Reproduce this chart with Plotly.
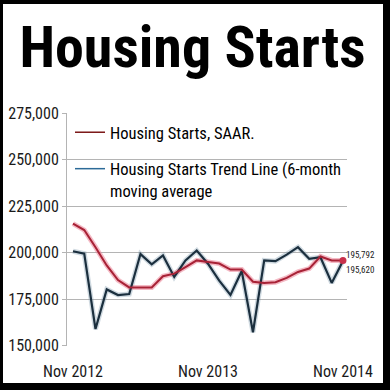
import plotly.graph_objects as go

# ---- data ----
months = ["Nov 2012", "Dec 2012", "Jan 2013", "Feb 2013", "Mar 2013", "Apr 2013",
          "May 2013", "Jun 2013", "Jul 2013", "Aug 2013", "Sep 2013", "Oct 2013",
          "Nov 2013", "Dec 2013", "Jan 2014", "Feb 2014", "Mar 2014", "Apr 2014",
          "May 2014", "Jun 2014", "Jul 2014", "Aug 2014", "Sep 2014", "Oct 2014",
          "Nov 2014"]
saar = [215700, 212200, 203000, 193200, 185300, 181400, 181300, 181300, 187400,
        188800, 192300, 195900, 195000, 194200, 191000, 191000, 184400, 183800,
        184200, 186500, 189700, 191500, 198000, 195900, 195792]
trend = [200800, 199500, 159000, 180300, 177300, 177800, 199300, 193800, 198600,
         187000, 195900, 201200, 194100, 185000, 177300, 190200, 157300, 195900,
         195500, 199000, 203000, 196800, 197600, 183800, 195620]
tick_months = ["Nov 2012", "Nov 2013", "Nov 2014"]
y_ticks = [150000, 175000, 200000, 225000, 250000, 275000]
end_labels = ["195,792", "195,620"]
legend_names = ["Housing Starts, SAAR.",
                "Housing Starts Trend Line (6-month<br>moving average"]

NARROW = "Roboto Condensed, Liberation Sans, Arial, sans-serif"

W = H = 390
L, R, T, B = 67, 43, 113, 44
PW, PH = W - L - R, H - T - B

def px_x(px):
    return (px - L) / PW

def px_y(py):
    return (H - B - py) / PH

fig = go.Figure()

# glow layers
fig.add_trace(go.Scatter(x=months, y=trend, mode="lines", showlegend=False,
                         line=dict(color="rgba(120,150,170,0.35)", width=5), hoverinfo="skip"))
fig.add_trace(go.Scatter(x=months, y=saar, mode="lines", showlegend=False,
                         line=dict(color="rgba(235,130,150,0.55)", width=5), hoverinfo="skip"))
# main lines
fig.add_trace(go.Scatter(x=months, y=trend, mode="lines", showlegend=False,
                         line=dict(color="#1b2f3e", width=2.2)))
fig.add_trace(go.Scatter(x=months, y=saar, mode="lines", showlegend=False,
                         line=dict(color="#a82236", width=2)))
fig.add_trace(go.Scatter(x=months[-1:], y=saar[-1:], mode="markers", showlegend=False,
                         marker=dict(color="#c8304a", size=7)))

# legend entries
fig.add_trace(go.Scatter(x=[None], y=[None], mode="lines", name=legend_names[0],
                         legendgroup="a", line=dict(color="#7d1a1a", width=1.5)))
fig.add_trace(go.Scatter(x=[None], y=[None], mode="lines", name=legend_names[1],
                         legendgroup="b", line=dict(color="#2c6a98", width=1.5)))

# end labels
fig.add_annotation(x=months[-1], y=saar[-1], text=end_labels[0], showarrow=False,
                   xanchor="left", yanchor="middle", xshift=1, yshift=6,
                   font=dict(family=NARROW, size=9, color="#222"))
fig.add_annotation(x=months[-1], y=trend[-1], text=end_labels[1], showarrow=False,
                   xanchor="left", yanchor="middle", xshift=1, yshift=-9,
                   font=dict(family=NARROW, size=9, color="#222"))

# frame: black paper with white inner panel
fig.add_shape(type="rect", xref="paper", yref="paper", layer="below",
              x0=px_x(3), x1=px_x(383), y0=px_y(383), y1=px_y(4),
              fillcolor="white", line=dict(width=0))

fig.update_layout(
    width=W, height=H,
    margin=dict(l=L, r=R, t=T, b=B, autoexpand=False),
    paper_bgcolor="black",
    plot_bgcolor="white",
    title=dict(text="<b>Housing Starts</b>", x=192.5 / W, xanchor="center",
               y=1 - 46.5 / H, yanchor="middle",
               font=dict(family=NARROW, size=58, color="black")),
    legend=dict(x=px_x(70), y=px_y(115), xanchor="left", yanchor="top",
                bgcolor="rgba(0,0,0,0)", valign="top", tracegroupgap=12,
                font=dict(family=NARROW, size=16.5, color="black"),
                itemwidth=30),
    showlegend=True,
)
fig.update_xaxes(type="category", range=[-0.533, 24.36], tickmode="array",
                 tickvals=tick_months, ticktext=tick_months, showgrid=False,
                 showline=False, zeroline=False, ticks="", ticklabelstandoff=14,
                 tickangle=0, automargin=False,
                 tickfont=dict(family=NARROW, size=16, color="#1a1a1a"))
fig.update_yaxes(range=[149900, 275100], tickmode="array", tickvals=y_ticks,
                 tickformat=",d", showgrid=True, gridcolor="#b4b4b4", gridwidth=1,
                 showline=True, linecolor="#b4b4b4", linewidth=1, zeroline=False,
                 ticks="outside", ticklen=4, tickcolor="#b4b4b4", automargin=False,
                 tickfont=dict(family=NARROW, size=16, color="#1a1a1a"))

fig.write_html("out.html", config={"displayModeBar": False},
               post_script="document.body.style.margin='0';")
